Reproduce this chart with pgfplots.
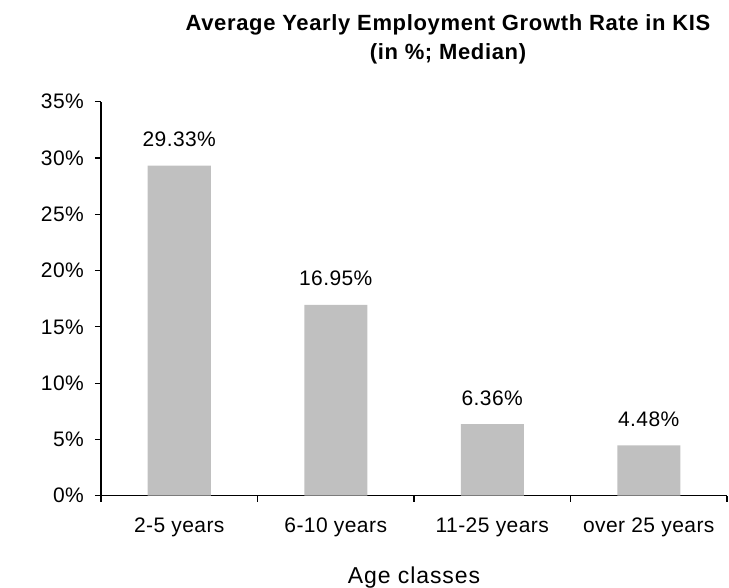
\documentclass[border=0pt]{standalone}
\usepackage{pgfplots}
\pgfplotsset{compat=1.18}
\usepackage{fontspec}
\setmainfont{Liberation Sans}[LetterSpace=2]
\newfontfamily\titlefont{Liberation Sans}[LetterSpace=3]
\newfontfamily\labelfont{Liberation Sans}[LetterSpace=4]
\definecolor{barfill}{RGB}{192,192,192}
\begin{document}
\begin{tikzpicture}
\begin{axis}[
  scale only axis,
  width=626bp, height=394bp,
  at={(0,0)}, anchor=south west,
  xmin=-0.5, xmax=3.5,
  ymin=0, ymax=35,
  axis x line*=bottom, axis y line*=left,
  axis line style={line width=1.2bp, black},
  every tick/.style={line width=1.2bp, black},
  tick align=outside,
  major tick length=6bp, minor tick length=6bp,
  xtick={0,1,2,3},
  xticklabels={2-5 years,6-10 years,11-25 years,over 25 years},
  major x tick style={draw=none},
  minor xtick={-0.5,0.5,1.5,2.5,3.5},
  ytick={0,5,10,15,20,25,30,35},
  yticklabels={0\%,5\%,10\%,15\%,20\%,25\%,30\%,35\%},
  ticklabel style={font=\fontsize{21bp}{25bp}\selectfont},
  yticklabel style={anchor=east, inner sep=0pt, xshift=-11bp},
  xticklabel style={anchor=base, inner sep=0pt, yshift=-31bp},
  xlabel={Age classes},
  xlabel style={font=\labelfont\fontsize{23bp}{27bp}\selectfont, at={(axis description cs:0.5,0)}, anchor=base, yshift=-87.6bp},
  ybar, bar width=63bp,
  point meta=explicit symbolic,
  nodes near coords,
  every node near coord/.append style={font=\fontsize{21bp}{25bp}\selectfont, anchor=base, inner sep=0pt, yshift=19bp, black},
  clip=false,
]
\addplot[fill=barfill, draw=none] coordinates {
  (0,29.33) [29.33\%]
  (1,16.95) [16.95\%]
  (2,6.36) [6.36\%]
  (3,4.48) [4.48\%]
};
\end{axis}
\node[anchor=base, font=\titlefont\bfseries\fontsize{22bp}{26bp}\selectfont] at (347bp,464.7bp) {Average Yearly Employment Growth Rate in KIS};
\node[anchor=base, font=\titlefont\bfseries\fontsize{22bp}{26bp}\selectfont] at (347bp,435.7bp) {(in \%; Median)};
\pgfresetboundingbox
\useasboundingbox (-101bp,-92.3bp) rectangle (628bp,495.7bp);
\end{tikzpicture}
\end{document}
